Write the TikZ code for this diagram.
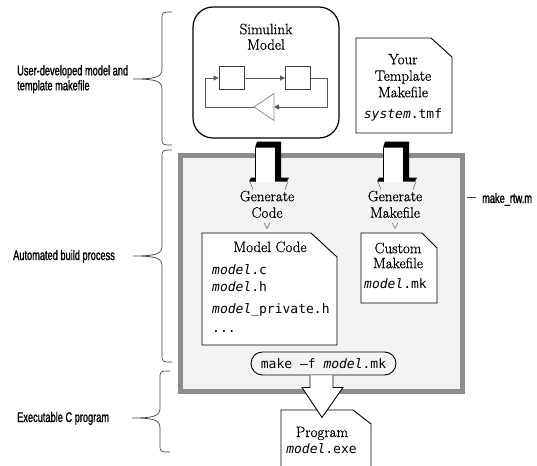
\documentclass[tikz,border=0pt]{standalone}
\usepackage{fontspec}
\newfontfamily\serifbold[RawFeature={embolden=0.9}]{Latin Modern Roman}
\newfontfamily\lblfont[FakeStretch=0.66, RawFeature={embolden=1.2}]{Liberation Sans}
\newfontfamily\monofont[ItalicFont={DejaVu Sans Mono Oblique}]{DejaVu Sans Mono}
\usetikzlibrary{arrows.meta,calc}
\definecolor{boxborder}{RGB}{140,140,140}
\definecolor{boxfill}{RGB}{243,243,243}
\tikzset{
  serif/.style={font=\serifbold\fontsize{15}{16.5}\selectfont, align=center, inner sep=0pt},
  mono/.style={font=\monofont\fontsize{13}{15}\selectfont, inner sep=0pt},
  lbl/.style={font=\lblfont\fontsize{14}{15}\selectfont, inner sep=0pt, align=left},
  bracestyle/.style={draw=black!75, line width=0.7pt},
  docline/.style={draw=black, line width=0.9pt, fill=white},
  sline/.style={draw=black!65, line width=0.8pt},
  hair/.style={draw=black!55, line width=0.6pt},
  blk/.style={draw=black!75, line width=0.8pt, minimum width=25pt, minimum height=23pt, inner sep=0pt},
  placeholder/.style={inner sep=0pt, outer sep=0pt},
  fatarrow/.pic={
    \fill[white] (-12,3) rectangle (14,43);
    \fill[black] (-10,3) -- (14,3) -- (14,39) -- (22,39) -- (20,43) -- (8,43) -- (8,9) -- (-12,9) -- cycle;
    \fill[black] (-12,39) -- (-16,39) -- (-18,43) -- (-12,43) -- cycle;
    \draw[black, line width=0.8pt] (-12,9) -- (-12,43);
    \draw[hair] (-17,43) -- (-14,51);
    \draw[hair] (21,43) -- (18,51);
  }
}
\newcommand\bracel[6]{\draw[bracestyle] (#1,#2) .. controls (#4,#2) .. (#4,#2+8) -- (#4,#6-10) .. controls (#4,#6-2) and (#4-6,#6) .. (#5,#6) .. controls (#4-6,#6) and (#4,#6+2) .. (#4,#6+10) -- (#4,#3-8) .. controls (#4,#3) .. (#1,#3);}
\newcommand\docpath[3]{\draw[docline] (#1.north west) -- ([xshift=-#2pt]#1.north east) -- ([yshift=-#3pt]#1.north east) -- (#1.south east) -- (#1.south west) -- cycle;}
\begin{document}
\begin{tikzpicture}[x=1pt,y=-1pt]
\useasboundingbox (0,0) rectangle (537,465);
\clip (0,0) rectangle (537,465);

% braces and labels
\bracel{172}{12}{145}{162}{133}{79}
\bracel{172}{150}{362}{162}{133}{256}
\bracel{170}{371}{452}{160}{132}{418}
\draw[bracestyle] (433,160) .. controls (445,160) .. (445,168) -- (445,187) .. controls (445,195) and (451,197) .. (462,197) .. controls (451,197) and (445,199) .. (445,207) -- (445,222) .. controls (445,230) .. (433,230);
\draw[bracestyle] (467,197) -- (476,197);
\node[lbl, anchor=north west] (l1) at (17,65) {User-developed model and\\template makefile};
\node[lbl, anchor=base west] (l2) at (13,260) {Automated build process};
\node[lbl, anchor=base west] (l3) at (17,422) {Executable C program};
\node[lbl, anchor=base west] (l4) at (482,203) {make\_rtw.m};

% build box
\node[draw=boxborder, line width=5pt, fill=boxfill, minimum width=282pt, minimum height=236pt, inner sep=0pt] (build) at (321.5,273.5) {};

% Simulink model
\node[draw, line width=1.2pt, rounded corners=20pt, minimum width=146pt, minimum height=131pt, inner sep=0pt] (sim) at (266,72.5) {};
\node[serif, font=\serifbold\fontsize{15}{15.5}\selectfont, anchor=north] (simt) at (266,23.5) {Simulink\\Model};
\node[blk] (b1) at (231.5,78) {};
\node[blk] (b2) at (298,78) {};
\coordinate (gtip) at (254,107);
\coordinate (gbase) at (274,107);
\draw[draw=black!45, line width=0.8pt] (gtip) -- ($(gbase)+(0,-13.5)$) -- ($(gbase)+(0,13.5)$) -- cycle;
\draw[sline, -{Triangle[length=5pt,width=5pt]}] (b1.east) -- (b2.west);
\draw[sline, -{Triangle[length=5pt,width=5pt]}] (b2.east) -- ++(16,0) |- (gbase);
\draw[sline, -{Triangle[length=5pt,width=5pt]}] (gtip) -- ++(-49,0) |- (b1.west);

% template makefile
\node[placeholder, minimum width=96pt, minimum height=95pt] (tmf) at (404,85.5) {};
\docpath{tmf}{21}{19}
\node[serif, anchor=north] (tmft) at (403,53.8) {Your\\Template\\Makefile};
\node[mono, anchor=base] (tmfm) at (403,119) {\textit{system}.tmf};

% generate labels and fat arrows
\node[serif, anchor=north] (gc) at (267,190.5) {Generate\\Code};
\node[serif, anchor=north] (gm) at (395,190.5) {Generate\\Makefile};
\pic at (sim.south -| gc.north) {fatarrow};
\pic at (sim.south -| gm.north) {fatarrow};
\draw[hair] ($(gc.south)+(-3,4.5)$) -- ($(gc.south)+(0,10.5)$) -- ($(gc.south)+(3,4.5)$);
\draw[hair] ($(gm.south)+(-3,4.5)$) -- ($(gm.south)+(0,10.5)$) -- ($(gm.south)+(3,4.5)$);

% model code
\node[placeholder, minimum width=135pt, minimum height=112pt] (code) at (269.5,289) {};
\docpath{code}{26}{24}
\node[serif, anchor=base] (codet) at (270,252) {Model Code};
\node[mono, anchor=base west] (c1) at (212,274) {\textit{model}.c};
\node[mono, anchor=base west] (c2) at (212,291) {\textit{model}.h};
\node[mono, anchor=base west] (c3) at (212,313) {\textit{model}\_private.h};
\node[mono, anchor=base west] (c4) at (212,332) {...};

% custom makefile
\node[placeholder, minimum width=76pt, minimum height=70pt] (mk) at (399,268) {};
\docpath{mk}{15}{15}
\node[serif, font=\serifbold\fontsize{15}{15}\selectfont, anchor=north] (mkt) at (398,242.5) {Custom\\Makefile};
\node[mono, anchor=base west] (mkm) at (364,288) {\textit{model}.mk};

% make command
\node[draw, line width=0.9pt, rounded corners=11.5pt, minimum width=145pt, minimum height=23pt, inner sep=0pt, font=\monofont\fontsize{13}{15}\selectfont] (make) at (323.5,363.5) {make –f \textit{model}.mk};

% program
\node[placeholder, minimum width=90pt, minimum height=70pt] (prog) at (326,445) {};
\docpath{prog}{18}{14}
\node[serif, anchor=base] (progt) at (322,437) {Program};
\node[mono, anchor=base] (progm) at (321.5,453) {\textit{model}.exe};

% hollow arrow
\draw[black, line width=0.9pt, fill=white] ($(make.south)+(-13.5,0)$) -- ++(0,12) -- ++(-8,0) -- ($(make.south)+(-1.5,42)$) -- ($(make.south)+(19.5,12)$) -- ++(-10,0) -- ($(make.south)+(9.5,0)$);
\end{tikzpicture}
\end{document}
